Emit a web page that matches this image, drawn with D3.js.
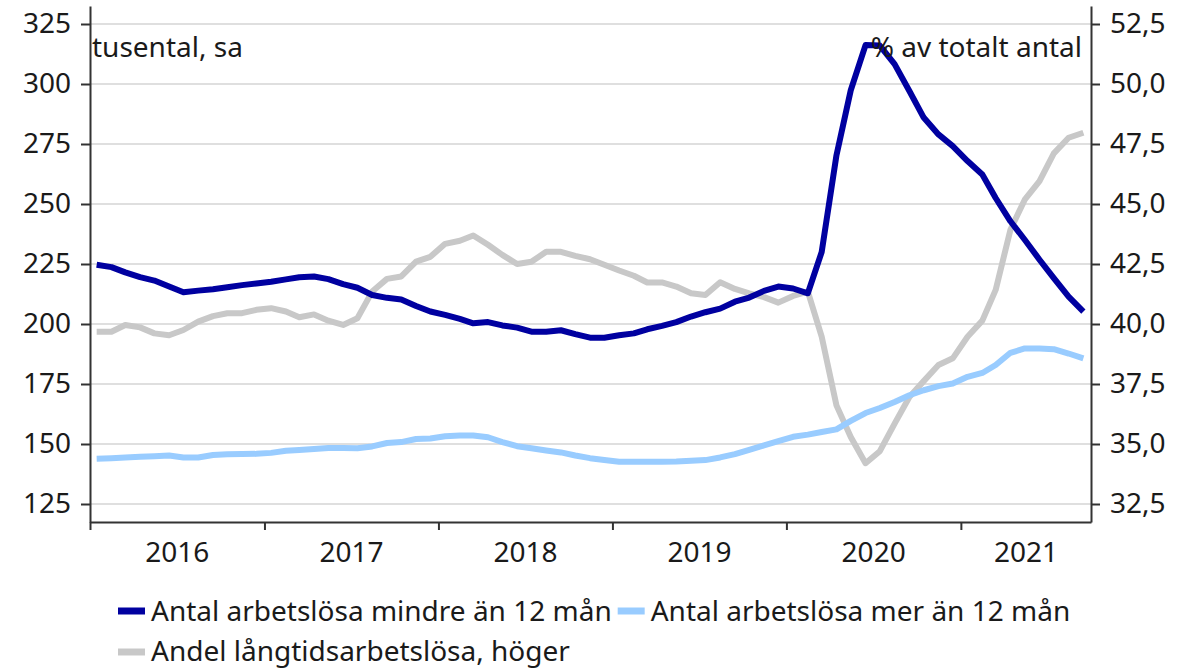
<!DOCTYPE html>
<html><head><meta charset="utf-8">
<script src="https://cdn.jsdelivr.net/npm/d3@7"></script>
<style>
body{margin:0;background:#fff}
svg{display:block}
text{font-family:"Noto Sans",sans-serif;fill:#1a1a1a}
</style>
</head><body>
<svg id="c" width="1189" height="669"></svg>
<script>
const firstMonth = "2016-01-15";
const shortTerm = [
 224.7,223.7,221.5,219.5,218.1,215.6,213.2,213.9,214.5,215.3,216.2,216.9,
 217.6,218.6,219.5,219.8,218.7,216.6,215.1,212.1,210.9,210.2,207.5,205.2,
 203.8,202.1,200.3,200.8,199.4,198.5,196.8,196.8,197.4,195.8,194.3,194.3,
 195.3,196.1,197.8,199.2,200.8,203.1,204.9,206.4,209.3,211.0,213.8,215.6,
 214.8,212.8,230.0,270.3,297.4,316.2,316.0,308.3,297.1,286.0,279.0,274.1,
 267.9,262.3,252.5,242.8,235.1,226.8,219.1,211.4,205.2];
const longTerm = [
 143.9,144.1,144.4,144.7,144.9,145.2,144.4,144.4,145.4,145.7,145.8,145.9,
 146.3,147.2,147.5,147.9,148.3,148.3,148.2,149.0,150.4,150.8,152.1,152.3,
 153.2,153.5,153.5,152.8,150.8,149.1,148.2,147.3,146.5,145.2,144.1,143.3,
 142.6,142.6,142.6,142.6,142.7,143.0,143.3,144.4,145.8,147.6,149.4,151.2,
 153.0,153.9,155.0,156.1,159.6,162.9,165.0,167.5,170.3,172.4,174.1,175.2,
 178.0,179.6,182.9,188.0,189.8,189.8,189.5,187.7,185.7];
const longShare = [
 39.68,39.68,39.96,39.86,39.61,39.53,39.75,40.10,40.33,40.45,40.45,40.59,
 40.66,40.52,40.28,40.40,40.14,39.96,40.24,41.35,41.88,41.98,42.60,42.80,
 43.34,43.47,43.69,43.30,42.88,42.50,42.59,43.01,43.01,42.84,42.70,42.47,
 42.23,42.01,41.73,41.73,41.56,41.28,41.21,41.74,41.46,41.28,41.12,40.89,
 41.17,41.35,39.47,36.61,35.29,34.20,34.70,35.85,36.96,37.62,38.29,38.57,
 39.47,40.14,41.42,43.93,45.18,45.95,47.11,47.76,47.97];
const leftTicks = [125,150,175,200,225,250,275,300,325];
const rightTicks = [32.5,35,37.5,40,42.5,45,47.5,50,52.5];
const years = [2016,2017,2018,2019,2020,2021];
const seriesNames = ["Antal arbetslösa mindre än 12 mån","Antal arbetslösa mer än 12 mån","Andel långtidsarbetslösa, höger"];
const seriesColors = ["#0000A0","#99CCFF","#C8C8C8"];
const leftUnit = "tusental, sa";
const rightUnit = "% av totalt antal";

const svg = d3.select("#c");
const L = 90, R = 1091, T = 6, B = 522;
const parse = d3.timeParse("%Y-%m-%d");
const m0 = parse(firstMonth);
const dates = shortTerm.map((_, i) => d3.timeMonth.offset(m0, i));
const xEnd = new Date(2021,9,1);
const x = d3.scaleTime().domain([new Date(2016,0,1), xEnd]).range([L, R]);
const yL = d3.scaleLinear().domain([117.5, 332.5]).range([B, T]);
const yR = d3.scaleLinear().domain([31.75, 53.25]).range([B, T]);
const FS = 28;

// grid
svg.append("g").selectAll("line").data(leftTicks).join("line")
  .attr("x1", L).attr("x2", R).attr("y1", d => yL(d)).attr("y2", d => yL(d))
  .attr("stroke", "#d4d4d4").attr("stroke-width", 1.5);

// lines
const lineL = d3.line().x((d, i) => x(dates[i])).y(d => yL(d));
const lineR = d3.line().x((d, i) => x(dates[i])).y(d => yR(d));
const g = svg.append("g").attr("fill", "none").attr("stroke-width", 6).attr("stroke-linejoin", "round");
g.append("path").attr("d", lineR(longShare)).attr("stroke", seriesColors[2]);
g.append("path").attr("d", lineL(longTerm)).attr("stroke", seriesColors[1]);
g.append("path").attr("d", lineL(shortTerm)).attr("stroke", seriesColors[0]);

// axes
const styleAxis = sel => {
  sel.selectAll("path.domain").attr("stroke", "#333").attr("stroke-width", 2);
  sel.selectAll(".tick line").attr("stroke", "#333").attr("stroke-width", 2);
  sel.selectAll("text").attr("font-size", FS).attr("font-family", '"Noto Sans",sans-serif').attr("fill", "#1a1a1a");
};
const fmtR = v => d3.format(".1f")(v).replace(".", ",");
svg.append("g").attr("transform", `translate(${L},0)`)
  .call(d3.axisLeft(yL).tickValues(leftTicks).tickSize(9).tickSizeOuter(0).tickPadding(10))
  .call(styleAxis);
svg.append("g").attr("transform", `translate(${R},0)`)
  .call(d3.axisRight(yR).tickValues(rightTicks).tickFormat(fmtR).tickSize(9).tickSizeOuter(0).tickPadding(10))
  .call(styleAxis);
svg.append("g").attr("transform", `translate(0,${B})`)
  .call(d3.axisBottom(x).tickValues(years.map(yv => new Date(yv,0,1))).tickFormat("").tickSize(8).tickSizeOuter(0))
  .call(styleAxis);
svg.append("g").selectAll("text").data(years).join("text")
  .attr("x", d => {
    const a = new Date(d,0,1);
    const b = new Date(Math.min(+new Date(d+1,0,1), +xEnd));
    return (x(a) + x(b)) / 2;
  })
  .attr("y", 562)
  .attr("text-anchor", "middle").attr("font-size", FS).text(d => d);

// unit labels
svg.append("text").attr("x", L + 2).attr("y", 57).attr("font-size", FS).text(leftUnit);
svg.append("text").attr("x", R - 9).attr("y", 57).attr("text-anchor", "end").attr("font-size", FS).text(rightUnit);

// legend
const leg = svg.append("g");
function legItem(xs, ySample, yText, i) {
  leg.append("line").attr("x1", xs).attr("x2", xs + 27).attr("y1", ySample).attr("y2", ySample)
    .attr("stroke", seriesColors[i]).attr("stroke-width", 7);
  const t = leg.append("text").attr("x", xs + 33).attr("y", yText).attr("font-size", FS).text(seriesNames[i]);
  return xs + 33 + t.node().getComputedTextLength();
}
const end1 = legItem(118, 611, 621, 0);
legItem(end1 + 6, 611, 621, 1);
legItem(118, 652, 661, 2);
</script>
</body></html>
